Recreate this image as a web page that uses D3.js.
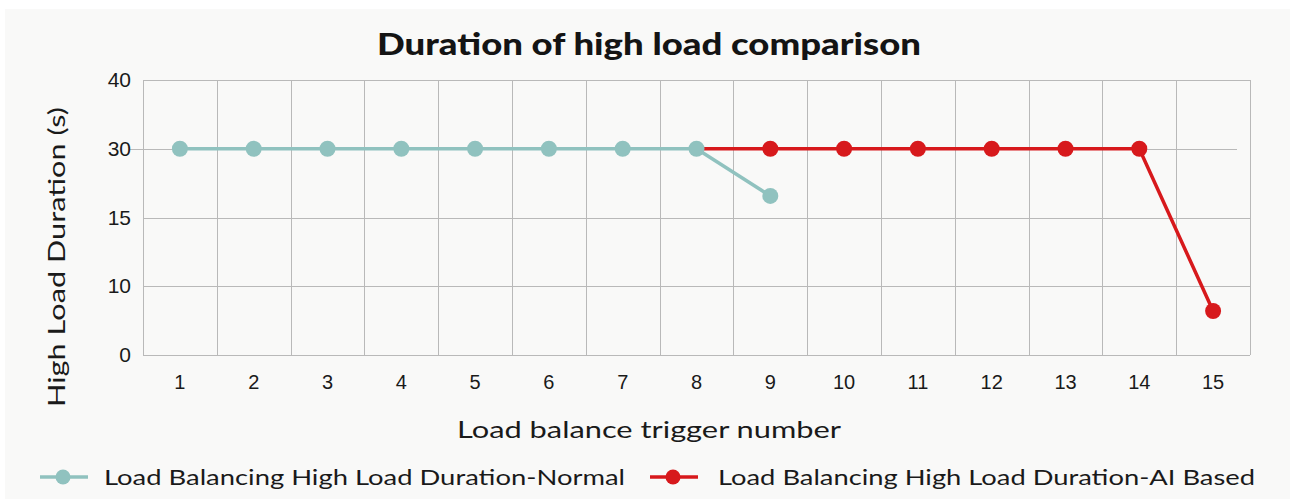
<!DOCTYPE html>
<html>
<head>
<meta charset="utf-8">
<script src="https://cdn.jsdelivr.net/npm/d3@7"></script>
<style>
  html, body { margin: 0; padding: 0; background: #ffffff; }
  svg { display: block; }
</style>
</head>
<body>
<svg id="chart" width="1290" height="499"></svg>
<script>
// Trigger numbers along the x axis
const triggers = [1, 2, 3, 4, 5, 6, 7, 8, 9, 10, 11, 12, 13, 14, 15];

// Normal load balancing: triggers 1–9
const normalTriggers = [1, 2, 3, 4, 5, 6, 7, 8, 9];
const normalValues = [30, 30, 30, 30, 30, 30, 30, 30, 19.7];

// AI based load balancing: triggers 8–15 (line starts at trigger 8)
const aiTriggers = [8, 9, 10, 11, 12, 13, 14, 15];
const aiValues = [30, 30, 30, 30, 30, 30, 30, 6.4];
const aiMarkerFrom = 9;

// Y axis tick labels (evenly spaced)
const yTicks = [0, 10, 15, 30, 40];

const seriesNames = [
  "Load Balancing High Load Duration-Normal",
  "Load Balancing High Load Duration-AI Based"
];
const colors = ["#90c2bf", "#d7191c"];

const svg = d3.select("#chart");
const W = 1290, H = 499;
const plot = { left: 143, right: 1250, top: 80, bottom: 355 };
const labelFont = "Lato, sans-serif";
const tickFont = "Liberation Sans, Arial, sans-serif";

// Panel background
svg.append("rect").attr("x", 0).attr("y", 0).attr("width", W).attr("height", H).attr("fill", "#ffffff");
svg.append("rect").attr("x", 5).attr("y", 9).attr("width", W - 5).attr("height", H - 9).attr("fill", "#f9f9f8");

const x = d3.scaleBand().domain(triggers).range([plot.left, plot.right]).paddingInner(0).paddingOuter(0);
const xc = d => x(d) + x.bandwidth() / 2;

// Piecewise scale so the uneven tick values sit at equal spacing
const yRange = yTicks.map((_, i) => plot.bottom - i * (plot.bottom - plot.top) / (yTicks.length - 1));
const y = d3.scaleLinear().domain(yTicks).range(yRange);

const grid = "#b9b9b9";

// Vertical grid lines at band boundaries
const g = svg.append("g");
const vEdges = triggers.map(t => x(t)).concat([plot.right]);
g.selectAll("line.vx")
  .data(vEdges)
  .join("line")
  .attr("class", "vx")
  .attr("x1", d => Math.round(d) + 0.5).attr("x2", d => Math.round(d) + 0.5)
  .attr("y1", plot.top).attr("y2", plot.bottom)
  .attr("stroke", grid).attr("stroke-width", 1);

// Horizontal grid lines (the 30 line carries a short tick to the left)
g.selectAll("line.hy")
  .data(yTicks)
  .join("line")
  .attr("class", "hy")
  .attr("x1", d => d === 30 ? plot.left - 13 : plot.left)
  .attr("x2", d => d === 30 ? plot.right - 13 : plot.right)
  .attr("y1", d => Math.round(y(d)) + 0.5).attr("y2", d => Math.round(y(d)) + 0.5)
  .attr("stroke", grid).attr("stroke-width", 1);

// Y axis labels
const yAxis = d3.axisLeft(y).tickValues(yTicks).tickSize(0).tickPadding(12).tickFormat(d3.format("d"));
svg.append("g").attr("transform", `translate(${plot.left},0)`).call(yAxis)
  .call(s => s.select(".domain").remove())
  .call(s => s.selectAll("text").attr("font-family", tickFont)
    .attr("font-size", 21).attr("fill", "#1a1a1a"));

// X axis labels
const xAxis = d3.axisBottom(x).tickSize(0).tickPadding(20);
svg.append("g").attr("transform", `translate(0,${plot.bottom})`).call(xAxis)
  .call(s => s.select(".domain").remove())
  .call(s => s.selectAll("text").attr("font-family", tickFont)
    .attr("font-size", 20).attr("fill", "#1a1a1a"));

// Title
svg.append("text").attr("x", 649).attr("y", 55).attr("text-anchor", "middle")
  .attr("font-family", labelFont).attr("font-weight", 900).attr("font-size", 31)
  .attr("textLength", 544).attr("lengthAdjust", "spacingAndGlyphs")
  .attr("fill", "#141414").text("Duration of high load comparison");

// Axis titles
svg.append("text").attr("x", 649).attr("y", 438).attr("text-anchor", "middle")
  .attr("font-family", labelFont).attr("font-size", 24).attr("fill", "#1a1a1a")
  .attr("textLength", 384).attr("lengthAdjust", "spacingAndGlyphs")
  .text("Load balance trigger number");
svg.append("text").attr("transform", "translate(65,257) rotate(-90)").attr("text-anchor", "middle")
  .attr("font-family", labelFont).attr("font-size", 24).attr("fill", "#1a1a1a")
  .attr("textLength", 300).attr("lengthAdjust", "spacingAndGlyphs")
  .text("High Load Duration (s)");

const line = d3.line().x(d => xc(d[0])).y(d => y(d[1]));

// AI based series (drawn first, normal series sits on top)
const aiData = aiTriggers.map((t, i) => [t, aiValues[i]]);
svg.append("path").datum(aiData).attr("d", line).attr("fill", "none")
  .attr("stroke", colors[1]).attr("stroke-width", 3.5);
svg.append("g").selectAll("circle").data(aiData.filter(d => d[0] >= aiMarkerFrom)).join("circle")
  .attr("cx", d => xc(d[0])).attr("cy", d => y(d[1])).attr("r", 8).attr("fill", colors[1]);

// Normal series
const normalData = normalTriggers.map((t, i) => [t, normalValues[i]]);
svg.append("path").datum(normalData).attr("d", line).attr("fill", "none")
  .attr("stroke", colors[0]).attr("stroke-width", 3.5);
svg.append("g").selectAll("circle").data(normalData).join("circle")
  .attr("cx", d => xc(d[0])).attr("cy", d => y(d[1])).attr("r", 8).attr("fill", colors[0]);

// Legend
const legendItems = [
  { name: seriesNames[0], color: colors[0], x0: 40, len: 521 },
  { name: seriesNames[1], color: colors[1], x0: 650, len: 537 }
];
const lg = svg.append("g").selectAll("g").data(legendItems).join("g")
  .attr("transform", d => `translate(${d.x0},477)`);
lg.append("line").attr("x1", 0).attr("x2", 48).attr("y1", 0).attr("y2", 0)
  .attr("stroke", d => d.color).attr("stroke-width", 3.5);
lg.append("circle").attr("cx", 23).attr("cy", 0).attr("r", 7.5).attr("fill", d => d.color);
lg.append("text").attr("x", d => d.x0 === 40 ? 64 : 68).attr("y", 8)
  .attr("font-family", labelFont).attr("font-size", 21).attr("fill", "#1a1a1a")
  .attr("textLength", d => d.len).attr("lengthAdjust", "spacingAndGlyphs")
  .text(d => d.name);
</script>
</body>
</html>
